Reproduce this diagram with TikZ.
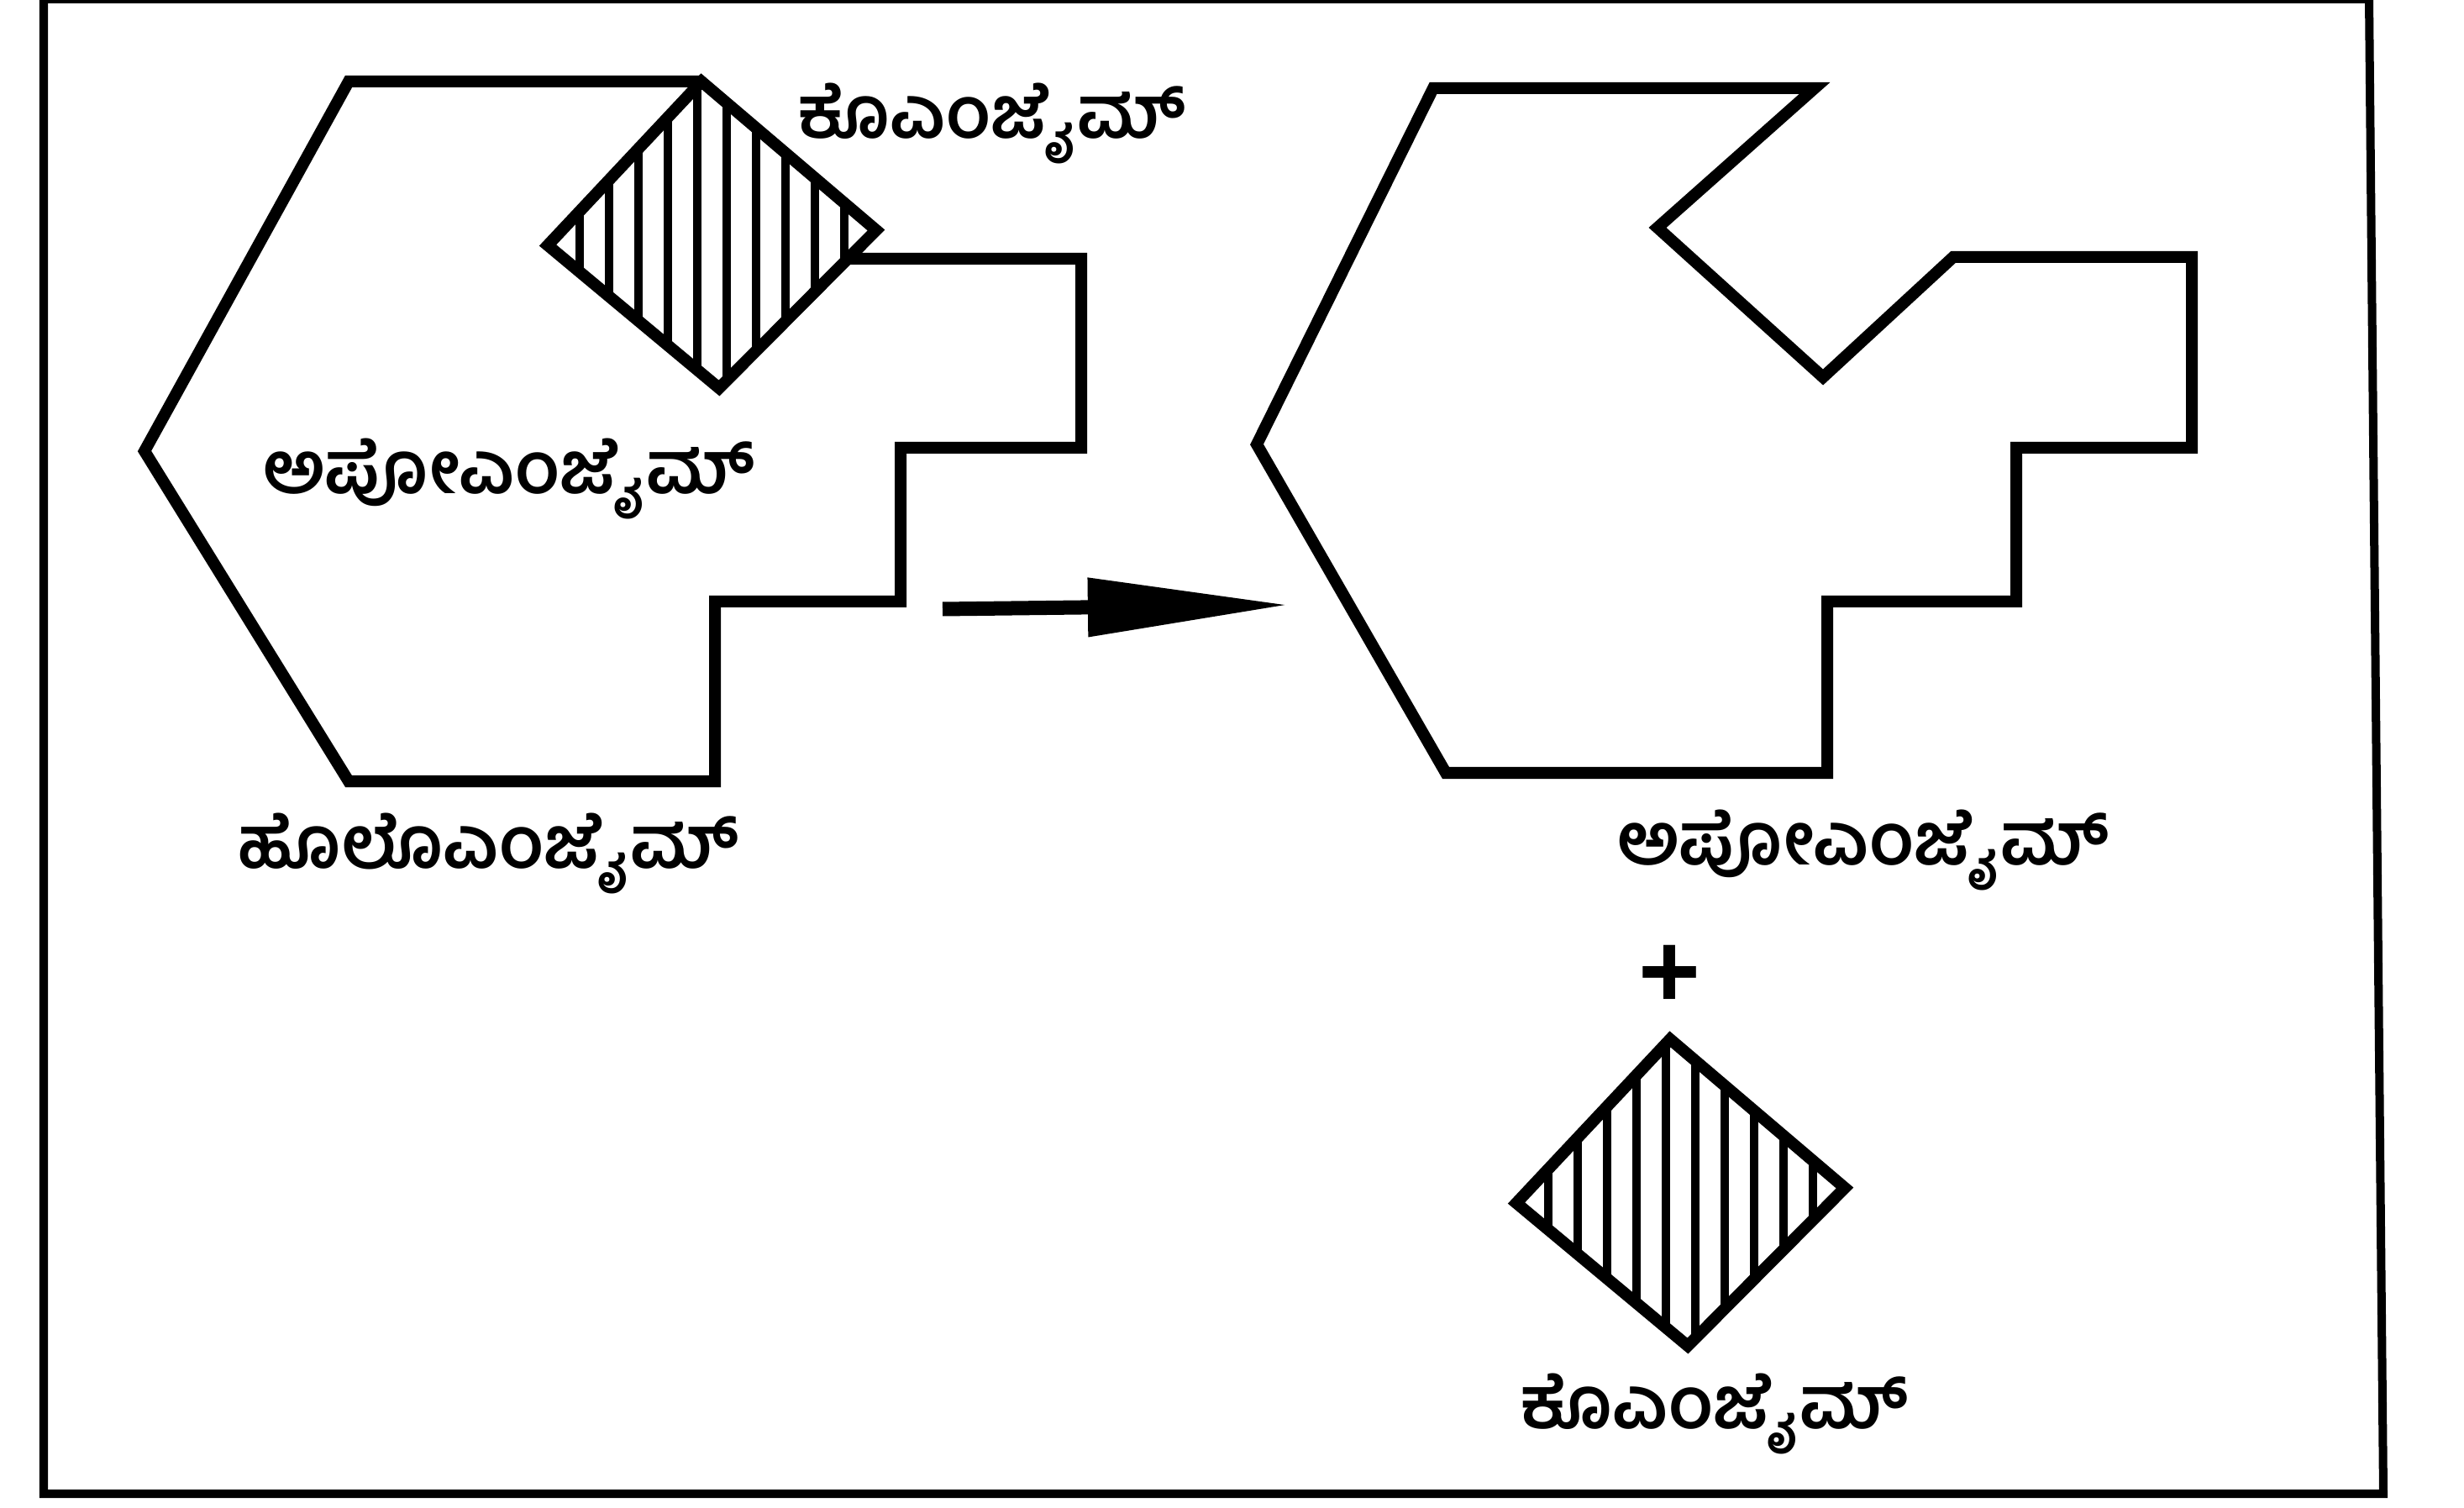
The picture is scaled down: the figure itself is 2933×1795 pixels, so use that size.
\documentclass[tikz,border=0pt]{standalone}
\usepackage{fontspec}
\setmainfont{Liberation Sans}
\newfontfamily\kn[Script=Kannada]{Hind Mysuru}
\usetikzlibrary{arrows.meta}
\tikzset{
  shapeline/.style={line width=0.14cm, line join=miter},
  framestyle/.style={line width=0.1cm},
  lbl/.style={inner sep=0pt, anchor=base, font=\kn\bfseries\fontsize{24.5}{28}\selectfont},
  hatch/.style={line width=0.1cm},
  coenz/.pic={
    \begin{scope}
      \clip (-13,-185) -- (195,-8) -- (8,180) -- (-196,10) -- cycle;
      \foreach \hx in {-158,-123,...,160} \draw[hatch] (\hx,-200) -- (\hx,200);
    \end{scope}
    \draw[line width=0.14cm, line join=miter] (-13,-185) -- (195,-8) -- (8,180) -- (-196,10) -- cycle;
  }
}
\begin{document}
\begin{tikzpicture}[x=0.01cm,y=-0.01cm]
\useasboundingbox (0,0) rectangle (2933,1795);
% frame
\draw[framestyle] (52,-1) -- (2820,-1) -- (2837,1778) -- (52,1778) -- cycle;
% holoenzyme outline
\draw[shapeline] (835,97) -- (415,97) -- (172,537) -- (415,930) -- (851,930) -- (851,716) -- (1072,716) -- (1072,533) -- (1287,533) -- (1287,308) -- (1009,308);
\pic at (848,282) {coenz};
% apoenzyme outline
\draw[shapeline] (1706,105) -- (2160,105) -- (1973,271) -- (2170,449) -- (2325,306) -- (2609,306) -- (2609,533) -- (2400,533) -- (2400,716) -- (2175,716) -- (2175,920) -- (1721,920) -- (1496,529) -- cycle;
% free coenzyme
\pic at (2001,1422) {coenz};
% arrow
\coordinate (arrS) at (1122,725);
\coordinate (arrE) at (1535,720);
\draw[line width=0.17cm, -{Triangle[length=2.4cm,width=0.66cm]}] (arrS) -- (arrE);
% labels
\node[lbl] (co1) at (1181,165) {ಕೊಎಂಜೈಮ್};
\node[lbl] (apo1) at (606,588) {ಅಪೋಎಂಜೈಮ್};
\node[lbl] (holo) at (582,1034) {ಹೊಲೊಎಂಜೈಮ್};
\node[lbl] (apo2) at (2218,1030) {ಅಪೋಎಂಜೈಮ್};
\node[lbl] (co2) at (2041,1700) {ಕೊಎಂಜೈಮ್};
\node[inner sep=0pt, anchor=base, text height=0.78cm, text depth=0pt, font=\bfseries\fontsize{36}{40}\selectfont] (plus) at (1987,1199) {+};
\end{tikzpicture}
\end{document}
